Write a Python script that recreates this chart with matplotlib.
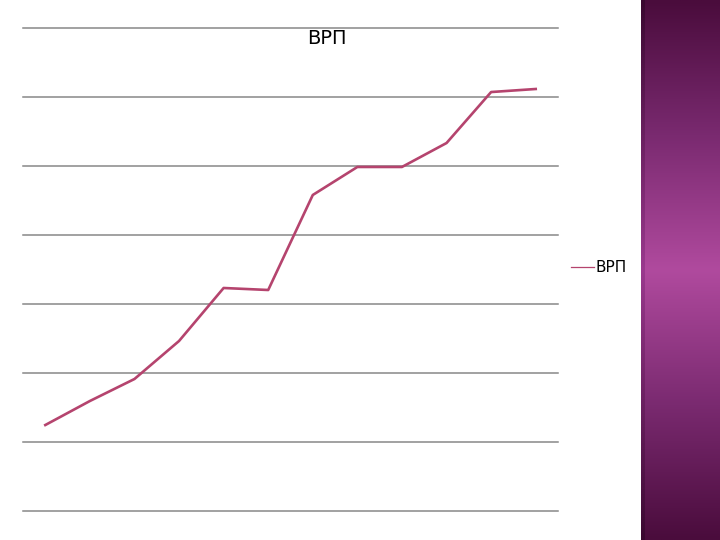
import matplotlib
matplotlib.use("Agg")
import matplotlib.pyplot as plt
import numpy as np
from matplotlib.colors import LinearSegmentedColormap

years = list(range(1, 13))
vrp = [124.6, 159.4, 191.3, 246.4, 323.2, 320.3, 458.0, 498.6, 498.6, 533.3, 607.2, 611.6]
yticks = [0, 100, 200, 300, 400, 500, 600, 700]
series_name = "ВРП"

W, H = 720, 540
fig = plt.figure(figsize=(7.2, 5.4), dpi=100)
fig.patch.set_facecolor("white")

ax = fig.add_axes([23 / W, 29 / H, (558 - 23) / W, (511 - 28) / H])
for t in yticks:
    ax.axhline(t, color="#878787", lw=1.1, clip_on=False, zorder=1)
ax.plot(years, vrp, color="#b5446e", lw=1.9, label=series_name, zorder=3)
ax.set_ylim(0, 700)
ax.set_xlim(0.5, 12.5)
ax.set_yticks(yticks)
ax.set_xticks([])
ax.tick_params(axis="y", length=0, labelleft=False)
for s in ax.spines.values():
    s.set_visible(False)
ax.set_facecolor("white")

fig.text(327 / W, 1 - 38 / H, series_name, ha="center", va="center", fontsize=14, color="black")

leg = ax.legend(loc="center left", bbox_to_anchor=(571 / W, 1 - 268 / H),
                bbox_transform=fig.transFigure, frameon=False, fontsize=11,
                handlelength=1.5, handletextpad=0.1, borderaxespad=0, borderpad=0)
for l in leg.get_lines():
    l.set_linewidth(0.9)

# decorative purple panel
pax = fig.add_axes([641 / W, 0, (W - 641) / W, 1])
pax.axis("off")
cmap = LinearSegmentedColormap.from_list("p", ["#4a0c3c", "#7a2a70", "#b04a9e", "#7a2a70", "#4a0c3c"])
grad = np.linspace(0, 1, 256).reshape(-1, 1)
pax.imshow(grad, aspect="auto", cmap=cmap, extent=[0, 1, 0, 1])
pax.set_xlim(0, 1)
pax.set_ylim(0, 1)
edge = fig.add_axes([641 / W, 0, 4 / W, 1])
edge.axis("off")
edge.imshow(grad, aspect="auto", cmap=LinearSegmentedColormap.from_list("e", ["#3a0830", "#6a2060", "#9a3a8e", "#6a2060", "#3a0830"]), extent=[0, 1, 0, 1])

fig.savefig("out.png", dpi=100)
